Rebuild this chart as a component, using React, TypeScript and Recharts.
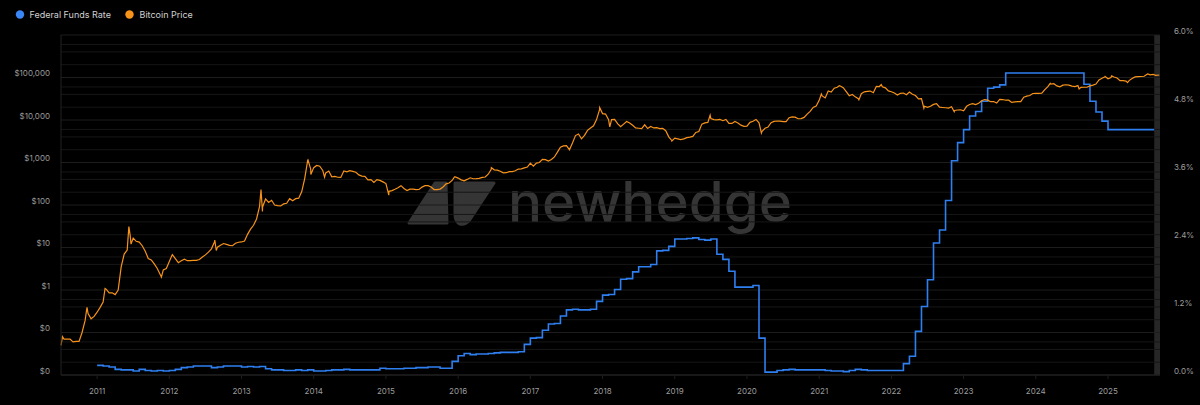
import React from 'react';
import { ComposedChart, Line, XAxis, YAxis, ReferenceLine, ReferenceArea } from 'recharts';

// year ticks on the time axis
const yearTicks = [2011, 2012, 2013, 2014, 2015, 2016, 2017, 2018, 2019, 2020, 2021, 2022, 2023, 2024, 2025];
const priceTicks = [0.01, 0.1, 1, 10, 100, 1000, 10000, 100000];
const rateTicks = [0, 1.2, 2.4, 3.6, 4.8, 6];

// bitcoin month-end closes (USD)
const btc2010 = [0.07, 0.06, 0.062, 0.19, 0.21, 0.3]; // Jul..Dec
const btc2011 = [0.52, 0.86, 0.78, 3.5, 8.7, 16.7, 13.4, 8.2, 5.1, 3.2, 2.97, 4.7];
const btc2012 = [5.5, 4.9, 4.9, 5.0, 5.2, 6.7, 9.3, 10.2, 12.4, 11.2, 12.6, 13.5];
const btc2013 = [20.4, 33.4, 93, 139, 129, 97, 106, 141, 141, 204, 1130, 757];
const btc2014 = [820, 570, 460, 450, 630, 640, 590, 480, 390, 340, 380, 320];
const btc2015 = [218, 255, 245, 236, 230, 264, 285, 231, 237, 314, 378, 430];
const btc2016 = [370, 437, 416, 448, 530, 673, 624, 575, 608, 700, 745, 964];
const btc2017 = [970, 1190, 1080, 1350, 2300, 2480, 2880, 4700, 4340, 6470, 10200, 14150];
const btc2018 = [10200, 10300, 6930, 9240, 7490, 6400, 7730, 7040, 6630, 6370, 4020, 3740];
const btc2019 = [3460, 3850, 4100, 5350, 8570, 10800, 10080, 9630, 8300, 9200, 7570, 7190];
const btc2020 = [9350, 8600, 6400, 8660, 9460, 9140, 11350, 11680, 10780, 13800, 19700, 29000];
const btc2021 = [33100, 45200, 58800, 57800, 37300, 35000, 41600, 47100, 43800, 61300, 57000, 46300];
const btc2022 = [38500, 43200, 45500, 37700, 31800, 19800, 23300, 20000, 19400, 20500, 17200, 16500];
const btc2023 = [23100, 23100, 28500, 29300, 27200, 30500, 29200, 26000, 27000, 34500, 37700, 42300];
const btc2024 = [42600, 61200, 71300, 60600, 67500, 62700, 64600, 59000, 63300, 70200, 96400, 93400];
const btc2025 = [102400, 84400, 82500, 94200, 104600, 107100, 115800]; // Jan..Jul

// bitcoin mid-month prices (USD)
const mid2010 = [0.07, 0.07, 0.062, 0.1, 0.28, 0.24]; // Jul..Dec
const mid2011 = [0.39, 1.05, 0.86, 1.0, 7.0, 19, 14, 11, 5.5, 4.1, 2.3, 3.2];
const mid2012 = [6.8, 4.4, 5.3, 4.9, 5.0, 6.0, 7.8, 13.5, 11.3, 11.8, 11.0, 13.3];
const mid2013 = [14.2, 27, 47, 90, 115, 100, 95, 110, 126, 145, 420, 700];
const mid2014 = [850, 650, 630, 470, 445, 600, 620, 510, 470, 395, 395, 350];
const mid2015 = [210, 235, 285, 220, 237, 232, 285, 265, 230, 265, 330, 460];
const mid2016 = [390, 400, 415, 425, 455, 690, 660, 570, 610, 640, 710, 780];
const mid2017 = [820, 1000, 1170, 1180, 1750, 2450, 2000, 4300, 3600, 5700, 7300, 17500];
const mid2018 = [13800, 10200, 8200, 8000, 8500, 6500, 6300, 6300, 6500, 6300, 5600, 3300];
const mid2019 = [3600, 3600, 3950, 5100, 8000, 8800, 10200, 10300, 10300, 8300, 8500, 7100];
const mid2020 = [8800, 10300, 5400, 6800, 9300, 9400, 9200, 11800, 10700, 11500, 16000, 21300];
const mid2021 = [36800, 48000, 56000, 63000, 46500, 40000, 31800, 46000, 48000, 61500, 60400, 48400];
const mid2022 = [43000, 42500, 39300, 40500, 31300, 21000, 21000, 24200, 19700, 19100, 16800, 17400];
const mid2023 = [21000, 24300, 24800, 30300, 27000, 25100, 30300, 29300, 26600, 27000, 36500, 42000];
const mid2024 = [42500, 51800, 69500, 63400, 66200, 66000, 60800, 58700, 59000, 66000, 88000, 104000];
const mid2025 = [100000, 97500, 84000, 84500, 103500, 105500, 119800, 118000]; // Jan..Aug

// intramonth highs / lows [decimal year, USD]
const btcSwings: [number, number][] = [
  [2010.5, 0.05], [2010.52, 0.08], [2010.86, 0.39], [2011.11, 1.09], [2011.44, 31], [2011.47, 12],
  [2011.89, 2.0], [2012.63, 15], [2012.65, 8.5], [2013.27, 230], [2013.29, 70], [2013.92, 1150],
  [2013.96, 520], [2014.15, 450], [2015.04, 170], [2015.95, 460], [2016.46, 760], [2017.96, 19500],
  [2018.1, 6900], [2018.96, 3200], [2019.49, 13000], [2020.2, 4900], [2021.03, 41000], [2021.28, 64000],
  [2021.55, 29800], [2021.86, 68000], [2022.45, 18900], [2022.87, 15700], [2024.2, 73000],
  [2024.6, 54000], [2024.96, 106000], [2025.05, 109000], [2025.27, 76000], [2025.55, 122000],
  [2025.66, 112000], [2025.71, 114500],
];

// effective federal funds rate, monthly (%)
const ffr2011 = [0.17, 0.16, 0.14, 0.10, 0.09, 0.09, 0.07, 0.10, 0.08, 0.07, 0.08, 0.07];
const ffr2012 = [0.08, 0.10, 0.13, 0.14, 0.16, 0.16, 0.16, 0.13, 0.14, 0.16, 0.16, 0.16];
const ffr2013 = [0.14, 0.15, 0.14, 0.15, 0.11, 0.09, 0.09, 0.08, 0.08, 0.09, 0.08, 0.09];
const ffr2014 = [0.07, 0.07, 0.08, 0.09, 0.09, 0.10, 0.09, 0.09, 0.09, 0.09, 0.09, 0.12];
const ffr2015 = [0.11, 0.11, 0.11, 0.12, 0.12, 0.13, 0.13, 0.14, 0.14, 0.12, 0.12, 0.24];
const ffr2016 = [0.34, 0.38, 0.36, 0.37, 0.37, 0.38, 0.39, 0.40, 0.40, 0.40, 0.41, 0.54];
const ffr2017 = [0.65, 0.66, 0.79, 0.90, 0.91, 1.04, 1.15, 1.16, 1.15, 1.15, 1.16, 1.30];
const ffr2018 = [1.41, 1.42, 1.51, 1.69, 1.70, 1.82, 1.91, 1.91, 1.95, 2.19, 2.20, 2.27];
const ffr2019 = [2.40, 2.40, 2.41, 2.42, 2.39, 2.38, 2.40, 2.13, 2.04, 1.83, 1.55, 1.55];
const ffr2020 = [1.55, 1.58, 0.65, 0.05, 0.05, 0.08, 0.09, 0.10, 0.09, 0.09, 0.09, 0.09];
const ffr2021 = [0.09, 0.08, 0.07, 0.07, 0.06, 0.08, 0.10, 0.09, 0.08, 0.08, 0.08, 0.08];
const ffr2022 = [0.08, 0.08, 0.20, 0.33, 0.77, 1.21, 1.68, 2.33, 2.56, 3.08, 3.78, 4.10];
const ffr2023 = [4.33, 4.57, 4.65, 4.83, 5.06, 5.08, 5.12, 5.33, 5.33, 5.33, 5.33, 5.33];
const ffr2024 = [5.33, 5.33, 5.33, 5.33, 5.33, 5.33, 5.33, 5.33, 5.13, 4.83, 4.64, 4.48];
const ffr2025 = [4.33, 4.33, 4.33, 4.33, 4.33, 4.33, 4.33, 4.33];

const monthly = (year: number, vals: number[], first = 0, offset = 1) =>
  vals.map((v, i) => ({ t: year + (first + i + offset) / 12, v }));

const btcData = [
  ...monthly(2010, btc2010, 6),
  ...monthly(2011, btc2011), ...monthly(2012, btc2012), ...monthly(2013, btc2013),
  ...monthly(2014, btc2014), ...monthly(2015, btc2015), ...monthly(2016, btc2016),
  ...monthly(2017, btc2017), ...monthly(2018, btc2018), ...monthly(2019, btc2019),
  ...monthly(2020, btc2020), ...monthly(2021, btc2021), ...monthly(2022, btc2022),
  ...monthly(2023, btc2023), ...monthly(2024, btc2024), ...monthly(2025, btc2025),
  ...monthly(2010, mid2010, 6, 0.5),
  ...monthly(2011, mid2011, 0, 0.5), ...monthly(2012, mid2012, 0, 0.5), ...monthly(2013, mid2013, 0, 0.5),
  ...monthly(2014, mid2014, 0, 0.5), ...monthly(2015, mid2015, 0, 0.5), ...monthly(2016, mid2016, 0, 0.5),
  ...monthly(2017, mid2017, 0, 0.5), ...monthly(2018, mid2018, 0, 0.5), ...monthly(2019, mid2019, 0, 0.5),
  ...monthly(2020, mid2020, 0, 0.5), ...monthly(2021, mid2021, 0, 0.5), ...monthly(2022, mid2022, 0, 0.5),
  ...monthly(2023, mid2023, 0, 0.5), ...monthly(2024, mid2024, 0, 0.5), ...monthly(2025, mid2025, 0, 0.5),
  ...btcSwings.map(([t, v]) => ({ t, v })),
]
  .sort((a, b) => a.t - b.t)
  .map((d) => ({ t: d.t, btc: d.v }));

const ffrMonths = [
  ...monthly(2011, ffr2011, 0, 0), ...monthly(2012, ffr2012, 0, 0), ...monthly(2013, ffr2013, 0, 0),
  ...monthly(2014, ffr2014, 0, 0), ...monthly(2015, ffr2015, 0, 0), ...monthly(2016, ffr2016, 0, 0),
  ...monthly(2017, ffr2017, 0, 0), ...monthly(2018, ffr2018, 0, 0), ...monthly(2019, ffr2019, 0, 0),
  ...monthly(2020, ffr2020, 0, 0), ...monthly(2021, ffr2021, 0, 0), ...monthly(2022, ffr2022, 0, 0),
  ...monthly(2023, ffr2023, 0, 0), ...monthly(2024, ffr2024, 0, 0), ...monthly(2025, ffr2025, 0, 0),
];
const ffrData = [
  ...ffrMonths.map((d) => ({ t: d.t, ffr: d.v })),
  { t: 2025.64, ffr: ffr2025[ffr2025.length - 1] },
];

// minor log grid (2, 4, 6 per decade) plus decades
const decades = [0.01, 0.1, 1, 10, 100, 1000, 10000, 100000, 1000000];
const minorLines = decades.slice(0, -1).flatMap((d) => [2 * d, 4 * d, 6 * d]);

const FONT = 'Inter, "Noto Sans", sans-serif';
const BLUE = '#2f7ff0';
const ORANGE = '#f7931a';

const fmtUsd = (v: number) => (v < 1 ? '$0' : '$' + v.toLocaleString('en-US'));

const LeftTick = ({ x, y, payload }: any) => (
  <text x={x} y={y - 4} dy="0.35em" textAnchor="end" fill="#9c9c9c" fontSize={8} fontFamily={FONT}>
    {fmtUsd(payload.value)}
  </text>
);

const RightTick = ({ x, y, payload }: any) => (
  <text x={x} y={y - 4} dy="0.35em" textAnchor="start" fill="#9c9c9c" fontSize={8} fontFamily={FONT}>
    {payload.value.toFixed(1)}%
  </text>
);

function Watermark() {
  return (
    <svg width={1200} height={405} style={{ position: 'absolute', left: 0, top: 0 }}>
      <g fill="#353535" stroke="#353535" strokeWidth={3} strokeLinejoin="round">
        <path d="M409,223 L435,183 L446,183 L447,223 Z" />
        <path d="M455,183 L494,183 L469,221 Q465,225 460,224 Q455,222 455,214 Z" />
      </g>
      <text
        x={508}
        y={222}
        fontSize={56}
        fontWeight={500}
        fill="#353535"
        fontFamily={FONT}
        textLength={284}
        lengthAdjust="spacingAndGlyphs"
      >
        newhedge
      </text>
    </svg>
  );
}

function ChartLegend() {
  return (
    <svg width={300} height={30} style={{ position: 'absolute', left: 0, top: 0 }}>
      <circle cx={20} cy={14.5} r={4.2} fill="#3b86f7" />
      <text x={29.5} y={14.5} dy="0.35em" fontSize={9} fill="#d0d0d0" fontFamily={FONT}>
        Federal Funds Rate
      </text>
      <circle cx={129.5} cy={14.5} r={4.2} fill={ORANGE} />
      <text x={139.5} y={14.5} dy="0.35em" fontSize={9} fill="#d0d0d0" fontFamily={FONT}>
        Bitcoin Price
      </text>
    </svg>
  );
}

export default function App() {
  return (
    <div style={{ position: 'fixed', left: 0, top: 0, width: 1200, height: 405, background: '#000', overflow: 'hidden' }}>
      <Watermark />
      <ChartLegend />
      <div style={{ position: 'absolute', left: 0, top: 0 }}>
        <ComposedChart width={1200} height={405} margin={{ top: 35, right: 0, bottom: 0, left: 0 }}>
          <XAxis
            dataKey="t"
            type="number"
            domain={[2010.5, 2025.72]}
            ticks={yearTicks}
            allowDuplicatedCategory={false}
            tickFormatter={(v: number) => String(v)}
            height={30}
            axisLine={{ stroke: '#232323' }}
            tickLine={{ stroke: '#1e1e1e' }}
            tickSize={4}
            tickMargin={9}
            tick={{ fill: '#9c9c9c', fontSize: 8, fontFamily: FONT }}
          />
          <YAxis
            yAxisId="btc"
            orientation="left"
            scale="log"
            domain={[0.01, 1000000]}
            ticks={priceTicks}
            allowDataOverflow
            width={61}
            axisLine={{ stroke: '#232323' }}
            tickLine={false}
            tickSize={0}
            tickMargin={11}
            tick={<LeftTick />}
          />
          <YAxis
            yAxisId="ffr"
            orientation="right"
            domain={[0, 6]}
            ticks={rateTicks}
            allowDataOverflow
            width={40}
            axisLine={false}
            tickLine={false}
            tickSize={0}
            tickMargin={14}
            tick={<RightTick />}
          />
          {decades.map((v) => (
            <ReferenceLine key={'d' + v} yAxisId="btc" y={v} stroke="#1d1d1d" strokeWidth={1} ifOverflow="extendDomain" />
          ))}
          {minorLines.map((v) => (
            <ReferenceLine key={'m' + v} yAxisId="btc" y={v} stroke="#161616" strokeWidth={1} />
          ))}
          <ReferenceArea yAxisId="ffr" x1={2025.64} x2={2025.72} y1={0} y2={6} fill="#262626" fillOpacity={1} stroke="none" />
          <Line
            yAxisId="ffr"
            data={ffrData}
            dataKey="ffr"
            type="stepAfter"
            stroke={BLUE}
            strokeWidth={1.6}
            dot={false}
            isAnimationActive={false}
          />
          <Line
            yAxisId="btc"
            data={btcData}
            dataKey="btc"
            type="linear"
            stroke={ORANGE}
            strokeWidth={1.2}
            dot={false}
            isAnimationActive={false}
          />
        </ComposedChart>
      </div>
    </div>
  );
}
